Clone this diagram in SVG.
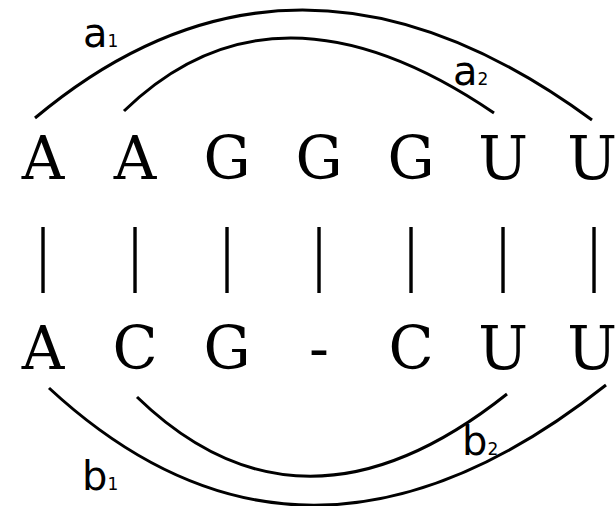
<svg xmlns="http://www.w3.org/2000/svg" width="616" height="506" viewBox="0 0 616 506">
<style>
.seq{font-family:"DejaVu Serif","Liberation Serif",serif;font-size:59px;fill:#000;text-anchor:middle}
.bar{font-family:"Liberation Mono","DejaVu Sans Mono",monospace;font-size:71px;fill:#000;text-anchor:middle}
.lbl{font-family:"DejaVu Sans","Liberation Sans",sans-serif;font-size:40px;fill:#000}
.sub{font-size:17px}
.arc{fill:none;stroke:#000;stroke-width:3}
</style>
<rect width="616" height="506" fill="#fff"/>
<g id="connectors">
<path class="arc" d="M35,118 Q294,-99 592,120"/>
<path class="arc" d="M124,111 Q275,-36 494,113"/>
<path class="arc" d="M49,388 Q304,624 606,385"/>
<path class="arc" d="M137,397 Q302,557 507,394"/>
</g>
<g id="row-top">
<text class="seq" x="43" y="179">A</text>
<text class="seq" x="135" y="179">A</text>
<text class="seq" x="227" y="179">G</text>
<text class="seq" x="319" y="179">G</text>
<text class="seq" x="411" y="179">G</text>
<text class="seq" x="503" y="179">U</text>
<text class="seq" x="592" y="179">U</text>
</g>
<g id="row-bars">
<text class="bar" transform="translate(43,278) scale(0.6,1)">|</text>
<text class="bar" transform="translate(135,278) scale(0.6,1)">|</text>
<text class="bar" transform="translate(227,278) scale(0.6,1)">|</text>
<text class="bar" transform="translate(319,278) scale(0.6,1)">|</text>
<text class="bar" transform="translate(411,278) scale(0.6,1)">|</text>
<text class="bar" transform="translate(503,278) scale(0.6,1)">|</text>
<text class="bar" transform="translate(594,278) scale(0.6,1)">|</text>
</g>
<g id="row-bottom">
<text class="seq" x="43" y="369">A</text>
<text class="seq" x="135" y="369">C</text>
<text class="seq" x="227" y="369">G</text>
<text class="seq" x="319" y="369">-</text>
<text class="seq" x="411" y="369">C</text>
<text class="seq" x="503" y="369">U</text>
<text class="seq" x="592" y="369">U</text>
</g>
<g id="label-a1"><text class="lbl" x="83" y="47">a<tspan class="sub">1</tspan></text></g>
<g id="label-a2"><text class="lbl" x="453" y="85">a<tspan class="sub">2</tspan></text></g>
<g id="label-b1"><text class="lbl" x="82" y="490">b<tspan class="sub">1</tspan></text></g>
<g id="label-b2"><text class="lbl" x="462" y="455">b<tspan class="sub">2</tspan></text></g>
</svg>
